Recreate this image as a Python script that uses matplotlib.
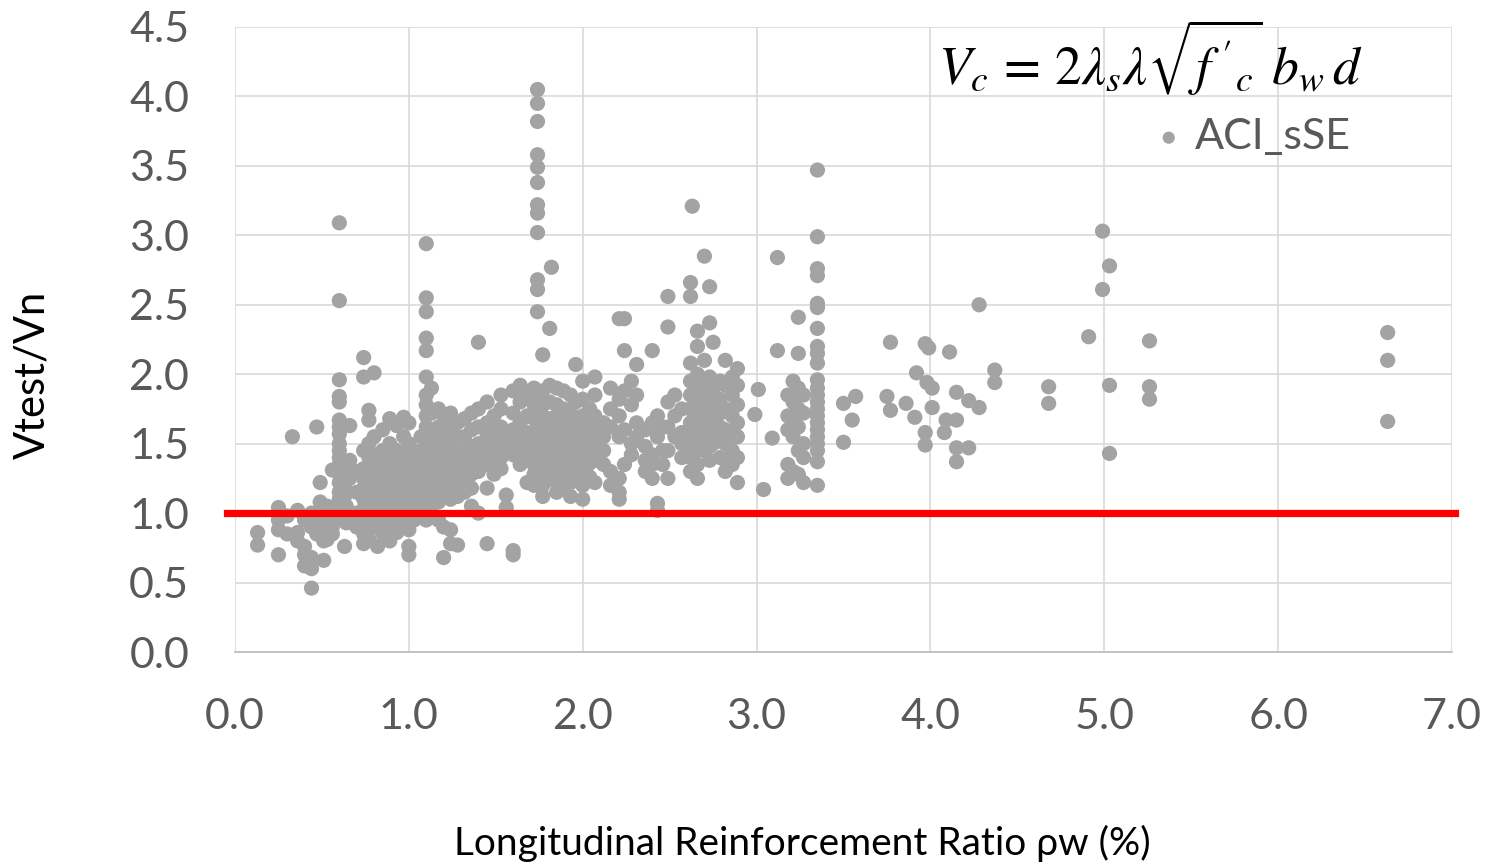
import matplotlib
matplotlib.use("Agg")
import matplotlib.pyplot as plt

# longitudinal reinforcement ratio (%) columns and Vtest/Vn values
rho_low = [0.13, 0.25, 0.30, 0.33, 0.36, 0.40, 0.44, 0.47, 0.49, 0.51, 0.53, 0.56,
           0.60, 0.63, 0.64, 0.66, 0.70]
vr_low = [[0.86, 0.77], [1.04, 0.88, 0.70, 0.95], [0.98, 0.85], [1.55],
          [1.02, 0.86, 0.80], [0.95, 0.76, 0.70, 0.62], [0.68, 0.60, 0.46, 0.90, 1.0],
          [1.62, 0.85, 0.95], [1.22, 1.08, 0.97, 0.88], [0.66, 0.80, 1.02, 0.92],
          [0.81, 0.98, 1.05], [1.31, 0.90, 1.0, 0.85],
          [3.09, 2.53, 1.96, 1.84, 1.80, 1.67, 1.62, 1.57, 1.50, 1.45, 1.40, 1.35,
           1.28, 1.22, 1.15, 1.10, 1.05, 0.98],
          [1.33, 1.20, 0.76, 1.12, 1.0], [0.93, 1.05], [1.63, 1.38, 1.25],
          [1.30, 1.15, 1.0, 0.90]]

rho_one = [0.74, 0.77, 0.80, 0.82, 0.85, 0.89, 0.93, 0.97, 1.00, 1.03, 1.07, 1.10,
           1.13, 1.17, 1.20, 1.24, 1.28]
vr_one = [[2.12, 1.98, 1.45, 1.32, 1.25, 1.18, 1.10, 1.03, 0.95, 0.85, 0.78],
          [1.74, 1.67, 1.50, 1.40, 1.30, 1.22, 1.12, 1.05, 0.81],
          [2.01, 1.55, 1.35, 1.28, 1.20, 1.15, 1.08, 0.98, 0.90],
          [0.76, 1.42, 1.33, 1.25, 1.18, 1.12, 1.02],
          [1.60, 1.45, 1.38, 1.30, 1.22, 1.16, 1.10, 1.05, 0.95, 0.85],
          [1.68, 1.50, 1.40, 1.33, 1.26, 1.20, 1.13, 1.06, 0.92, 0.80],
          [1.63, 1.45, 1.36, 1.28, 1.22, 1.15, 1.08, 0.98, 0.86],
          [1.69, 1.55, 1.42, 1.35, 1.27, 1.20, 1.12, 1.03, 0.90],
          [1.65, 1.50, 1.40, 1.30, 1.24, 1.16, 1.08, 0.98, 0.88, 0.76, 0.70],
          [1.45, 1.35, 1.28, 1.20, 1.12, 1.05, 0.95],
          [1.55, 1.40, 1.30, 1.22, 1.15, 1.08, 1.00],
          [2.94, 2.55, 2.45, 2.26, 2.17, 1.98, 1.85, 1.78, 1.70, 1.62, 1.55, 1.48,
           1.40, 1.32, 1.25, 1.18, 1.10, 1.02, 0.95],
          [1.90, 1.72, 1.60, 1.50, 1.42, 1.35, 1.28, 1.20, 1.12, 1.05],
          [1.75, 1.62, 1.52, 1.45, 1.38, 1.30, 1.22, 1.15, 1.08, 0.95],
          [1.70, 1.58, 1.48, 1.40, 1.33, 1.25, 1.18, 0.90, 0.68],
          [1.72, 1.62, 1.52, 1.42, 1.35, 1.28, 1.20, 1.10, 0.88, 0.78],
          [1.65, 1.55, 1.45, 1.38, 1.30, 1.22, 1.12, 0.77]]

rho_mid = [1.32, 1.36, 1.40, 1.45, 1.49, 1.53, 1.56, 1.60, 1.64, 1.68,
           1.72, 1.74, 1.77, 1.81, 1.82, 1.85, 1.89, 1.93, 1.96, 2.00, 2.04, 2.07]
vr_mid = [[1.68, 1.55, 1.45, 1.35, 1.25, 1.15],
          [1.72, 1.60, 1.48, 1.38, 1.28, 1.18, 1.05],
          [2.23, 1.75, 1.62, 1.50, 1.40, 1.30, 1.00],
          [1.80, 1.65, 1.55, 1.45, 1.35, 1.18, 0.78],
          [1.70, 1.58, 1.48, 1.38, 1.28],
          [1.85, 1.75, 1.62, 1.50, 1.40, 1.32],
          [1.55, 1.45, 1.13, 1.04],
          [1.88, 1.72, 1.60, 1.50, 1.42, 0.73, 0.70],
          [1.92, 1.80, 1.65, 1.55, 1.45, 1.35],
          [1.85, 1.70, 1.58, 1.48, 1.38, 1.22],
          [1.90, 1.78, 1.68, 1.58, 1.50, 1.42, 1.35, 1.28, 1.20],
          [4.05, 3.95, 3.82, 3.58, 3.49, 3.38, 3.22, 3.16, 3.02, 2.68, 2.61, 2.45,
           1.85, 1.75, 1.65, 1.55, 1.45],
          [2.14, 1.88, 1.78, 1.70, 1.62, 1.52, 1.44, 1.36, 1.28, 1.20, 1.12],
          [2.33, 1.92, 1.80, 1.68, 1.60, 1.50, 1.42, 1.34, 1.25],
          [2.77],
          [1.90, 1.78, 1.70, 1.62, 1.55, 1.47, 1.40, 1.32, 1.22, 1.15],
          [1.88, 1.75, 1.66, 1.58, 1.50, 1.43, 1.35, 1.27, 1.18],
          [1.85, 1.72, 1.62, 1.55, 1.48, 1.40, 1.30, 1.22, 1.12],
          [2.07, 1.80, 1.68, 1.58, 1.50, 1.42, 1.35, 1.25],
          [1.95, 1.82, 1.70, 1.60, 1.52, 1.45, 1.36, 1.28, 1.20, 1.10],
          [1.75, 1.62, 1.52, 1.44, 1.36, 1.26],
          [1.98, 1.85, 1.70, 1.58, 1.48, 1.38, 1.22]]

rho_two = [2.12, 2.16, 2.21, 2.24, 2.28, 2.31, 2.36, 2.40, 2.43, 2.46, 2.49, 2.53, 2.57,
           2.62, 2.63, 2.66, 2.70, 2.73, 2.75, 2.79, 2.82, 2.86, 2.89]
vr_two = [[1.65, 1.55, 1.45, 1.35],
          [1.90, 1.75, 1.62, 1.30, 1.20],
          [2.40, 1.82, 1.70, 1.55, 1.25, 1.15, 1.10],
          [2.40, 2.17, 1.88, 1.60, 1.35],
          [1.95, 1.78, 1.50, 1.42],
          [2.07, 1.85, 1.65, 1.55],
          [1.60, 1.48, 1.38, 1.30],
          [2.17, 1.65, 1.42, 1.35, 1.25],
          [1.70, 1.55, 1.07, 1.02],
          [1.62, 1.45, 1.35],
          [2.56, 2.34, 1.80, 1.62, 1.45, 1.25],
          [1.85, 1.70, 1.55],
          [1.75, 1.58, 1.50, 1.40],
          [2.66, 2.56, 2.08, 1.95, 1.85, 1.75, 1.65, 1.55, 1.48, 1.40, 1.30],
          [3.21],
          [2.31, 2.20, 2.00, 1.90, 1.80, 1.70, 1.62, 1.55, 1.45, 1.35, 1.25],
          [2.85, 2.10, 1.95, 1.85, 1.75, 1.68, 1.60, 1.52, 1.45],
          [2.63, 2.37, 1.98, 1.88, 1.78, 1.70, 1.62, 1.55, 1.48, 1.38],
          [2.23, 1.90, 1.80, 1.72, 1.65, 1.58, 1.50],
          [1.95, 1.82, 1.72, 1.62, 1.52, 1.40],
          [2.10, 1.92, 1.75, 1.60, 1.50, 1.38, 1.30],
          [1.98, 1.85, 1.70, 1.58, 1.45, 1.35],
          [2.04, 1.92, 1.78, 1.65, 1.55, 1.40, 1.22]]

rho_high = [2.99, 3.01, 3.04, 3.09, 3.12, 3.18, 3.21, 3.24, 3.27, 3.35, 3.50, 3.55, 3.57,
            3.75, 3.77, 3.86, 3.91, 3.92, 3.97, 3.98, 3.99, 4.01, 4.08, 4.09, 4.11,
            4.15, 4.22, 4.28, 4.37, 4.68, 4.91, 4.99, 5.03, 5.26, 6.63]
vr_high = [[1.71], [1.89], [1.17], [1.54], [2.84, 2.17],
           [1.85, 1.70, 1.60, 1.35, 1.25],
           [1.95, 1.80, 1.65, 1.55, 1.30],
           [2.41, 2.15, 1.90, 1.75, 1.62, 1.45, 1.28],
           [1.85, 1.72, 1.50, 1.40, 1.22],
           [3.47, 2.99, 2.76, 2.71, 2.51, 2.48, 2.33, 2.20, 2.15, 2.08, 1.96, 1.90,
            1.85, 1.80, 1.75, 1.70, 1.65, 1.60, 1.55, 1.50, 1.45, 1.37, 1.20],
           [1.79, 1.51], [1.67], [1.84],
           [1.84], [2.23, 1.74], [1.79], [1.69], [2.01], [2.22, 1.58, 1.49], [1.94],
           [2.19], [1.90, 1.76], [1.58], [1.67], [2.16], [1.87, 1.67, 1.47, 1.37],
           [1.81, 1.47], [2.50, 1.76], [2.03, 1.94], [1.91, 1.79], [2.27],
           [3.03, 2.61], [2.78, 1.92, 1.43], [2.24, 1.91, 1.82], [2.30, 2.10, 1.66]]

x_ticks = [0, 1, 2, 3, 4, 5, 6, 7]
y_ticks = [0, 0.5, 1.0, 1.5, 2.0, 2.5, 3.0, 3.5, 4.0, 4.5]
limit_ratio = 1.0

xs, ys = [], []
for rhos, vrs in [(rho_low, vr_low), (rho_one, vr_one), (rho_mid, vr_mid),
                  (rho_two, vr_two), (rho_high, vr_high)]:
    for r, col in zip(rhos, vrs):
        for v in col:
            xs.append(r)
            ys.append(v)

plt.rcParams['font.family'] = ['Lato', 'DejaVu Sans']
plt.rcParams['mathtext.fontset'] = 'stix'

fig = plt.figure(figsize=(14.86, 8.65), dpi=100)
ax = fig.add_axes([235/1486, 1-652/865, (1452-235)/1486, (652-27)/865])

grey = '#A3A3A3'
ax.scatter(xs, ys, s=120, color=grey, edgecolors='none', zorder=3, label='ACI_sSE')
ax.axhline(limit_ratio, xmin=-0.0066, xmax=1.0025, color='#FF0000', lw=5.2,
           zorder=4, clip_on=False)

ax.set_xlim(0, 7)
ax.set_ylim(0, 4.5)
ax.set_xticks(x_ticks)
ax.set_yticks(y_ticks)
ax.set_xticklabels([f'{t:.1f}' for t in x_ticks])
ax.set_yticklabels([f'{t:.1f}' for t in y_ticks])
ax.tick_params(length=0, labelsize=31, labelcolor='#595959')
ax.tick_params(axis='x', pad=33)
ax.tick_params(axis='y', pad=33)
ax.grid(True, color='#D9D9D9', lw=1.2, zorder=0)
ax.set_axisbelow(True)
for side in ['top', 'right', 'left']:
    ax.spines[side].set_visible(False)
ax.spines['bottom'].set_color('#BFBFBF')
ax.spines['bottom'].set_linewidth(1.3)

fig.text(32/1486, 1-375/865, 'Vtest/Vn', rotation=90, ha='center', va='center',
         fontsize=30, color='black')
fig.text(802/1486, 1-843/865, 'Longitudinal Reinforcement Ratio ρw (%)',
         ha='center', va='center', fontsize=28, color='black')
fig.text(938/1486, 1-58/865,
         r"$V_c\,=\,2\lambda_s\lambda\sqrt{f^{\,\prime}{}_{c}}\;b_w\,d$",
         ha='left', va='center', fontsize=38.5, color='black')

ax.legend(loc='center left', bbox_to_anchor=(1130/1486, 1-137/865),
          bbox_transform=fig.transFigure, frameon=False, fontsize=31,
          labelcolor='#595959', handletextpad=0.2, handlelength=0.8,
          borderpad=0, markerscale=0.8)

fig.savefig('out.png', dpi=100)
